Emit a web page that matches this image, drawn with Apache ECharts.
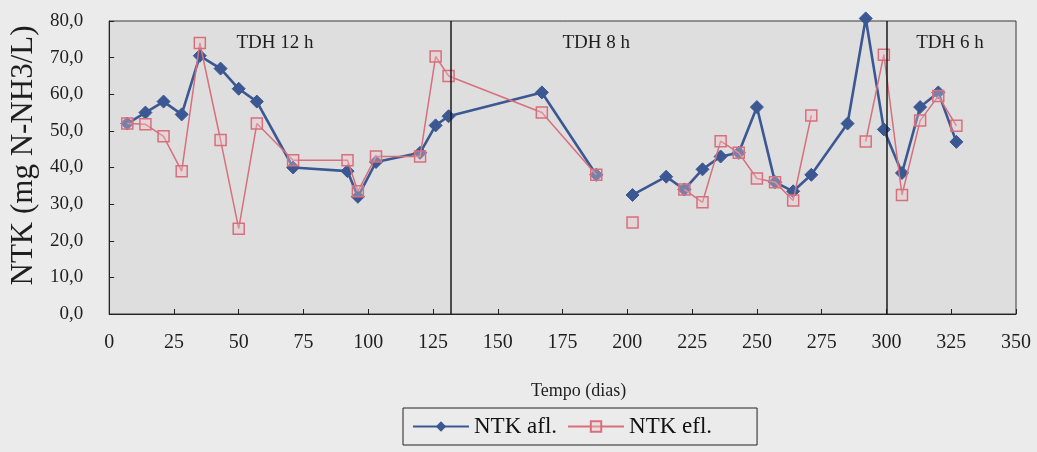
<!DOCTYPE html>
<html>
<head>
<meta charset="utf-8">
<script src="https://cdn.jsdelivr.net/npm/echarts@6/dist/echarts.min.js"></script>
<style>
  html, body { margin: 0; padding: 0; background: #ebebeb; }
  #chart { width: 1037px; height: 452px; }
</style>
</head>
<body>
<div id="chart"></div>
<script>
// Sampling days (null values mark days with no measurement)
const days    = [7, 14, 21, 28, 35, 43, 50, 57, 71, 92, 96, 103, 120, 126, 131, 167, 188, 195, 202, 215, 222, 229, 236, 243, 250, 257, 264, 271, 285, 292, 299, 306, 313, 320, 327];
// NTK influent (mg N-NH3/L)
const nktAfl  = [52.0, 55.0, 58.0, 54.5, 70.5, 67.0, 61.5, 58.0, 40.0, 39.0, 32.0, 41.5, 44.0, 51.5, 54.0, 60.5, 38.0, null, 32.5, 37.5, 34.0, 39.5, 43.0, 44.0, 56.5, 36.0, 33.5, 38.0, 52.0, 80.7, 50.4, 38.5, 56.5, 60.5, 47.0];
// NTK effluent (mg N-NH3/L)
const nktEfl  = [52.0, 51.8, 48.5, 39.0, 74.0, 47.5, 23.3, 52.0, 42.0, 42.0, 33.5, 43.0, 43.0, 70.3, 65.0, 55.0, 38.0, null, 25.0, null, 34.0, 30.5, 47.2, 44.0, 37.0, 36.0, 31.0, 54.2, null, 47.1, 70.8, 32.5, 52.8, 59.5, 51.4];
// Hydraulic retention time phases: boundaries (days) and names
const phaseBreaks = [132, 300];
const phaseNames  = ['TDH 12 h', 'TDH 8 h', 'TDH 6 h'];
// Tick settings
const xTicks = { min: 0, max: 350, step: 25 };
const yTicks = { min: 0, max: 80, step: 10 };

const serif = "'Liberation Serif', 'Times New Roman', serif";
const ink = '#1e1e1e';
const blue = '#3b5893';
const pink = '#d6707c';

const pairs = vals => days.map((d, i) => [d, vals[i] === null ? null : vals[i]]);

// Where each phase name sits inside its band (day, value)
const phaseAnchors = [[64, 74], [188, 74], [324.5, 74]];

const chart = echarts.init(document.getElementById('chart'), null, { renderer: 'canvas' });
chart.setOption({
  backgroundColor: '#ebebeb',
  animation: false,
  textStyle: { fontFamily: serif, color: ink },
  grid: {
    left: 108, right: 21, top: 21, bottom: 138,
    show: true, backgroundColor: '#dedede', borderColor: '#3a3a3a', borderWidth: 1
  },
  xAxis: {
    type: 'value', min: xTicks.min, max: xTicks.max, interval: xTicks.step,
    name: 'Tempo (dias)', nameLocation: 'middle', nameGap: 68,
    nameTextStyle: { fontFamily: serif, fontSize: 18, color: ink, padding: [0, 0, 0, 32] },
    axisLine: { show: true, lineStyle: { color: '#222', width: 1 } },
    axisTick: { show: true, inside: true, length: 5, lineStyle: { color: '#222' } },
    axisLabel: { margin: 19, fontFamily: serif, fontSize: 20, color: ink },
    splitLine: { show: false }
  },
  yAxis: {
    type: 'value', min: yTicks.min, max: yTicks.max, interval: yTicks.step,
    name: 'NTK (mg N-NH3/L)', nameLocation: 'middle', nameGap: 65,
    nameTextStyle: { fontFamily: serif, fontSize: 31, color: ink, padding: [0, 0, 0, 24] },
    axisLine: { show: true, lineStyle: { color: '#222', width: 1 } },
    axisTick: { show: true, inside: true, length: 5, lineStyle: { color: '#222' } },
    axisLabel: {
      margin: 26, fontFamily: serif, fontSize: 19, color: ink,
      formatter: v => v.toFixed(1).replace('.', ',')
    },
    splitLine: { show: false }
  },
  legend: {
    left: 403, top: 408,
    padding: [7, 45, 7, 9], itemGap: 10,
    itemWidth: 56, itemHeight: 13,
    borderColor: '#222', borderWidth: 1, borderRadius: 0,
    textStyle: { fontFamily: serif, fontSize: 23, color: '#111' },
    data: ['NTK afl.', 'NTK efl.']
  },
  series: [
    {
      name: 'NTK afl.', type: 'line', data: pairs(nktAfl),
      clip: false, connectNulls: false,
      symbol: 'diamond', symbolSize: 13,
      lineStyle: { color: blue, width: 2.6 },
      itemStyle: { color: blue, borderColor: blue },
      markLine: {
        silent: true, symbol: ['none', 'none'], label: { show: false },
        lineStyle: { color: '#1a1a1a', width: 1.5, type: 'solid' },
        data: phaseBreaks.map(d => ({ xAxis: d }))
      },
      markPoint: {
        silent: true, symbol: 'rect', symbolSize: 1,
        itemStyle: { color: 'rgba(0,0,0,0)' },
        label: { show: true, position: 'inside', fontFamily: serif, fontSize: 19, color: ink,
                 formatter: p => p.name },
        data: phaseNames.map((n, i) => ({ name: n, coord: phaseAnchors[i] }))
      },
      z: 2
    },
    {
      name: 'NTK efl.', type: 'line', data: pairs(nktEfl),
      clip: false, connectNulls: false,
      symbol: 'rect', symbolSize: 11,
      lineStyle: { color: pink, width: 1.5 },
      itemStyle: { color: 'rgba(240,200,205,0.35)', borderColor: pink, borderWidth: 1.5 },
      z: 3
    }
  ]
});
</script>
</body>
</html>
